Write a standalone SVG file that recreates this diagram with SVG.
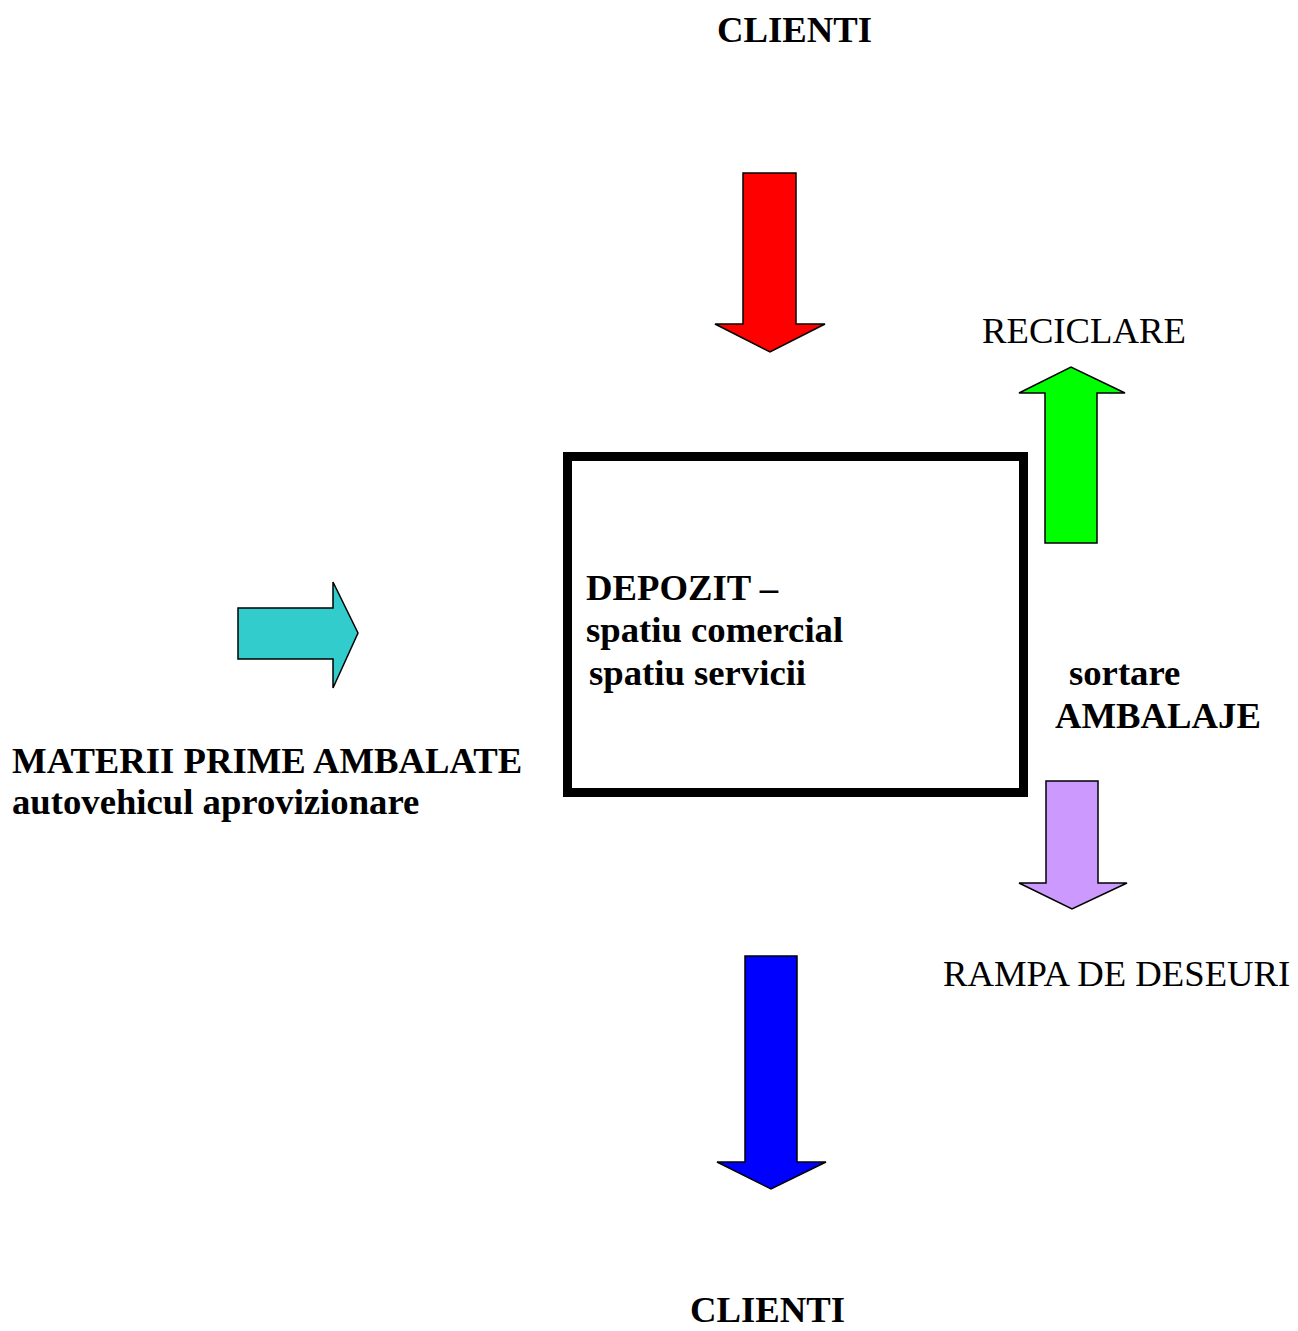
<svg xmlns="http://www.w3.org/2000/svg" width="1298" height="1331" viewBox="0 0 1298 1331">
<style>
.b{font-family:"Liberation Serif","Times New Roman",serif;font-weight:bold;font-size:36.7px;fill:#000}
.r{font-family:"Liberation Serif","Times New Roman",serif;font-size:36.7px;fill:#000}
.ar{stroke:#000;stroke-width:1.5;stroke-linejoin:miter}
</style>
<rect width="1298" height="1331" fill="#fff"/>
<g id="depozit">
<rect x="567.5" y="456.5" width="456" height="336" fill="#fff" stroke="#000" stroke-width="9"/>
<text class="b" x="586" y="600">DEPOZIT –</text>
<text class="b" x="586" y="642">spatiu comercial</text>
<text class="b" x="589" y="685">spatiu servicii</text>
</g>
<g id="clienti-top"><text class="b" x="717" y="42">CLIENTI</text></g>
<g id="clienti-bottom"><text class="b" x="690" y="1322">CLIENTI</text></g>
<g id="materii">
<text class="b" x="12" y="773">MATERII PRIME AMBALATE</text>
<text class="b" x="12" y="814">autovehicul aprovizionare</text>
</g>
<g id="reciclare"><text class="r" x="982" y="343">RECICLARE</text></g>
<g id="sortare">
<text class="b" x="1069" y="685">sortare</text>
<text class="b" x="1055" y="728">AMBALAJE</text>
</g>
<g id="rampa"><text class="r" x="943" y="986">RAMPA DE DESEURI</text></g>
<g id="connectors">
<polygon class="ar" fill="#ff0000" points="743,173 796,173 796,324 825,324 770,352 715,324 743,324"/>
<polygon class="ar" fill="#00ff00" points="1045,543 1097,543 1097,393 1125,393 1071,367 1019,393 1045,393"/>
<polygon class="ar" fill="#33cccc" points="238,608 333,608 333,582 358,633 333,688 333,659 238,659"/>
<polygon class="ar" fill="#cc99ff" points="1046,781 1098,781 1098,883 1127,883 1072,909 1019,883 1046,883"/>
<polygon class="ar" fill="#0000ff" points="745,956 797,956 797,1162 826,1162 771,1189 717,1162 745,1162"/>
</g>
</svg>
